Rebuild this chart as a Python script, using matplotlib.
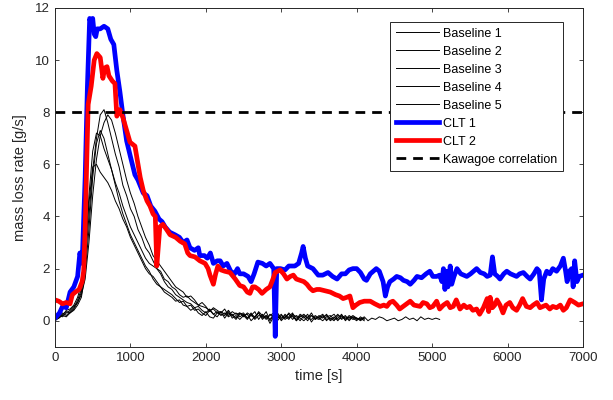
import numpy as np
import matplotlib
matplotlib.use("Agg")
import matplotlib.pyplot as plt

plt.rcParams['font.family'] = ['Liberation Sans', 'DejaVu Sans']

# ---------------- data ----------------
# Baselines sampled every 50 s
t_base = np.arange(0, 4150, 50)
t_base5 = np.arange(0, 5150, 50)

baseline1 = [0.05,0.15,0.30,0.20,0.35,0.50,0.80,1.20,2.20,4.00,
             5.80,7.00,7.90,8.10,7.60,7.00,6.40,5.90,5.20,4.80,
             4.30,4.00,3.50,3.20,2.80,2.60,2.30,2.00,1.90,1.60,
             1.50,1.30,1.20,1.00,0.90,0.95,0.80,0.70,0.60,0.55,
             0.50,0.40,0.45,0.30,0.35,0.25,0.40,0.20,0.30,0.15,
             0.25,0.10,0.30,0.05,0.20,0.15,0.35,0.00,0.20,0.10,
             0.25,0.05,0.15,0.30,0.00,0.20,0.10,0.25,-0.05,0.15,
             0.10,0.20,0.00,0.15,0.25,0.05,0.10,0.20,0.00,0.15,
             0.10,0.05,0.10]
baseline2 = [0.10,0.20,0.15,0.30,0.40,0.55,0.70,1.00,1.60,3.00,
             4.80,6.20,7.10,7.60,7.90,7.70,7.20,6.60,6.00,5.40,
             4.90,4.50,4.00,3.60,3.20,2.90,2.50,2.30,2.10,1.90,
             1.70,1.50,1.30,1.20,1.10,0.90,0.95,0.80,0.60,0.70,
             0.55,0.35,0.50,0.40,0.30,0.45,0.20,0.35,0.25,0.30,
             0.15,0.30,0.20,0.10,0.35,0.20,0.05,0.25,0.15,0.30,
             0.10,0.20,0.05,0.25,0.15,0.00,0.20,0.10,0.30,0.05,
             0.20,0.10,0.25,0.05,0.15,0.00,0.20,0.10,0.05,0.15,
             0.05,0.10,0.00]
baseline3 = [0.15,0.10,0.25,0.35,0.30,0.45,0.70,1.10,2.50,4.80,
             6.50,7.20,7.10,6.60,6.20,5.80,5.20,4.60,4.10,3.70,
             3.30,3.00,2.70,2.40,2.10,1.90,1.60,1.40,1.30,1.10,
             1.00,0.90,0.75,0.80,0.60,0.55,0.40,0.50,0.30,0.20,
             0.35,0.15,0.10,0.30,0.25,0.20,0.35,0.10,0.20,0.05,
             0.20,0.25,0.00,0.15,0.30,0.05,0.20,-0.10,0.15,0.25,
             0.00,0.15,0.25,0.05,0.20,0.10,0.00,0.15,0.20,0.05,
             0.15,0.25,0.05,0.10,0.00,0.20,0.15,0.05,0.20,0.10,
             0.00,0.15,0.05]
baseline4 = [0.20,0.25,0.20,0.40,0.45,0.60,0.90,1.40,2.60,4.50,
             5.90,6.00,5.70,5.50,5.30,5.00,4.60,4.30,3.90,3.60,
             3.20,2.90,2.60,2.30,2.00,1.80,1.70,1.50,1.30,1.20,
             1.10,1.00,0.85,0.70,0.75,0.55,0.60,0.40,0.45,0.30,
             0.20,0.40,0.25,0.15,0.35,0.10,0.30,0.20,0.05,0.25,
             0.30,0.10,0.20,0.35,0.05,0.25,0.10,0.20,0.30,0.00,
             0.20,0.10,0.30,0.15,0.05,0.25,0.15,0.00,0.20,0.10,
             0.05,0.15,0.20,0.00,0.10,0.25,0.05,0.15,0.10,0.20,
             0.10,0.00,0.10]
baseline5 = [0.00,0.10,0.20,0.15,0.30,0.40,0.60,0.90,1.80,3.50,
             5.50,6.80,7.30,7.00,6.40,5.80,5.30,4.90,4.40,4.00,
             3.60,3.30,3.00,2.70,2.40,2.20,2.10,2.00,1.80,1.50,
             1.30,1.20,1.00,0.90,0.80,0.70,0.65,0.50,0.55,0.40,
             0.30,0.45,0.25,0.35,0.20,0.30,0.15,0.25,0.10,0.30,
             0.20,0.05,0.25,0.15,0.30,0.10,0.20,0.05,0.25,0.15,
             0.05,0.25,0.10,0.20,0.00,0.15,0.25,0.10,0.05,0.20,
             0.10,0.00,0.15,0.20,0.05,0.10,0.25,0.00,0.15,0.05,
             0.10,0.05,0.15,0.00,0.10,0.05,0.15,0.10,0.00,0.05,
             0.10,0.00,0.05,0.15,0.05,0.10,0.00,0.15,0.05,0.10,
             0.05,0.10,0.05]

clt1_t = [0,60,100,150,200,250,300,330,360,400,430,460,480,500,520,540,560,600,650,700,
          740,780,820,860,900,950,1000,1060,1100,1170,1220,1270,1325,1380,1420,1460,1520,1590,1650,1700,
          1750,1790,1850,1900,1920,1980,2020,2060,2100,2150,2190,2230,2280,2330,2380,2420,2450,2500,2560,2600,
          2640,2690,2750,2800,2850,2900,2920,2940,2990,3050,3100,3180,3230,3270,3290,3320,3350,3420,3490,3550,
          3620,3680,3740,3800,3850,3900,3950,4000,4050,4100,4130,4180,4220,4260,4300,4350,4380,4410,4440,4490,
          4530,4580,4620,4670,4710,4760,4800,4860,4920,4970,5010,5060,5100,5130,5150,5170,5190,5210,5240,5260,
          5290,5330,5380,5420,5460,5510,5550,5590,5640,5690,5730,5770,5800,5830,5870,5900,5950,5990,6040,6080,
          6120,6160,6210,6260,6300,6350,6390,6420,6450,6480,6520,6560,6600,6650,6700,6740,6770,6790,6820,6850,
          6870,6890,6920,6950,7000]
clt1_y = [0.1,0.3,0.55,0.5,1.1,1.3,1.7,2.6,2.2,5.5,9.0,11.6,11.4,11.6,11.0,10.9,11.2,11.2,11.3,11.2,
          10.8,10.6,9.6,8.8,7.9,6.9,6.3,5.6,5.4,4.9,4.8,4.4,4.2,3.9,3.8,3.6,3.4,3.3,3.2,3.0,
          3.1,2.8,2.7,2.8,2.5,2.5,2.4,2.6,2.2,2.3,2.3,2.1,2.2,1.9,1.8,2.0,1.8,1.8,1.7,1.5,
          1.8,2.25,2.2,2.1,2.2,2.0,-0.6,2.0,2.0,1.95,2.1,2.1,2.2,2.6,2.85,2.4,2.1,2.0,1.75,1.75,
          1.85,1.7,1.6,1.8,1.8,1.95,2.0,2.0,1.85,1.6,1.55,1.8,1.9,2.0,1.9,1.5,0.95,1.3,1.5,1.6,
          1.7,1.65,1.55,1.5,1.4,1.55,1.7,1.65,1.8,1.9,1.7,1.7,1.75,1.5,2.0,1.2,1.9,1.3,2.1,1.4,
          1.7,2.0,1.8,1.75,1.7,1.8,1.9,2.0,1.85,1.8,1.7,1.75,2.45,1.8,1.7,1.6,1.8,1.9,1.8,1.75,
          1.7,1.8,1.85,1.7,1.6,1.8,2.0,1.9,0.8,1.6,1.9,1.8,2.0,1.9,2.1,2.4,1.9,1.5,1.9,2.0,
          1.3,2.3,1.5,1.7,1.75]

clt2_t = [0,50,100,150,200,230,270,320,360,380,400,420,440,480,520,555,600,635,660,690,
          715,760,795,820,860,900,930,995,1060,1100,1130,1170,1220,1260,1300,1330,1350,1390,1430,1480,
          1525,1600,1660,1720,1760,1790,1855,1920,1990,2030,2055,2100,2130,2160,2200,2250,2320,2390,2450,2500,
          2550,2585,2620,2650,2700,2745,2800,2850,2890,2920,2985,3030,3075,3120,3160,3200,3250,3300,3340,3380,
          3420,3470,3510,3580,3650,3720,3770,3820,3870,3910,3950,3990,4040,4100,4180,4240,4310,4360,4400,4440,
          4480,4530,4570,4640,4710,4760,4840,4880,4930,4970,5010,5060,5100,5150,5200,5240,5280,5320,5370,5420,
          5460,5500,5540,5590,5630,5680,5730,5750,5770,5800,5830,5860,5900,5940,5980,6030,6070,6120,6160,6200,
          6250,6300,6340,6390,6430,6470,6510,6560,6600,6650,6700,6740,6780,6830,6860,6890,6940,7000]
clt2_y = [0.8,0.75,0.65,0.7,0.65,1.0,1.1,1.2,1.5,1.9,3.5,6.0,8.3,9.0,10.0,10.25,10.1,9.3,9.7,9.75,
          9.4,9.2,9.1,7.85,8.1,7.8,7.5,6.85,6.7,6.0,5.5,5.0,4.6,4.4,4.1,4.0,2.1,3.6,3.7,3.5,
          3.3,3.2,3.05,2.95,2.6,2.5,2.45,2.3,2.2,2.0,1.75,1.4,1.8,2.1,1.95,1.9,1.85,1.6,1.35,1.3,
          1.1,1.05,1.3,1.3,1.2,1.05,1.2,1.3,1.6,1.85,1.95,1.8,1.6,1.7,1.75,1.6,1.55,1.5,1.4,1.25,
          1.15,1.2,1.2,1.15,1.1,1.0,0.95,0.85,0.9,0.95,0.5,0.6,0.7,0.75,0.75,0.65,0.55,0.6,0.55,0.7,
          0.75,0.6,0.45,0.6,0.75,0.6,0.55,0.7,0.65,0.5,0.55,0.75,0.45,0.6,0.7,0.5,0.55,0.8,0.45,0.6,
          0.5,0.55,0.4,0.45,0.25,0.5,0.85,0.35,0.9,0.5,0.6,0.8,0.6,0.3,0.6,0.7,0.5,0.4,0.6,0.85,
          0.55,0.5,0.6,0.7,0.5,0.55,0.6,0.45,0.55,0.5,0.6,0.4,0.5,0.8,0.75,0.7,0.6,0.65]

kawagoe = 8.0

# ---------------- plot ----------------
fig = plt.figure(figsize=(6.13, 4.0), dpi=100)
ax = fig.add_axes([0.0897, 0.133, 0.8613, 0.847])

ax.plot(t_base, baseline1, color='k', lw=0.7, label='Baseline 1')
ax.plot(t_base, baseline2, color='k', lw=0.7, label='Baseline 2')
ax.plot(t_base, baseline3, color='k', lw=0.7, label='Baseline 3')
ax.plot(t_base, baseline4, color='k', lw=0.7, label='Baseline 4')
ax.plot(t_base5, baseline5, color='k', lw=0.7, label='Baseline 5')
ax.plot(clt1_t, clt1_y, color='#0000ff', lw=3.4, label='CLT 1')
ax.plot(clt2_t, clt2_y, color='#ff0000', lw=3.4, label='CLT 2')
ax.axhline(kawagoe, color='k', lw=2.0, ls=(0, (3.5, 2.5)), label='Kawagoe correlation')

ax.set_xlim(0, 7000)
ax.set_ylim(-1, 12)
ax.set_xticks(np.arange(0, 7001, 1000))
ax.set_yticks(np.arange(0, 13, 2))
ax.tick_params(direction='in', top=True, right=True, labelsize=9.5,
               colors='#262626', length=3, width=0.6)
for s in ax.spines.values():
    s.set_color('#262626')
    s.set_linewidth(0.7)

ax.set_xlabel('time [s]', fontsize=10.5, color='#262626', labelpad=4)
ax.set_ylabel('mass loss rate [g/s]', fontsize=10.5, color='#262626', labelpad=6)

leg = ax.legend(loc='upper right', bbox_to_anchor=(0.962, 0.959), fontsize=9,
                frameon=True, fancybox=False, edgecolor='#262626', framealpha=1,
                handlelength=3.5, handletextpad=0.3, labelspacing=0.48,
                borderpad=0.45, borderaxespad=0)
leg.get_frame().set_linewidth(0.7)

fig.savefig('out.png', dpi=100)
